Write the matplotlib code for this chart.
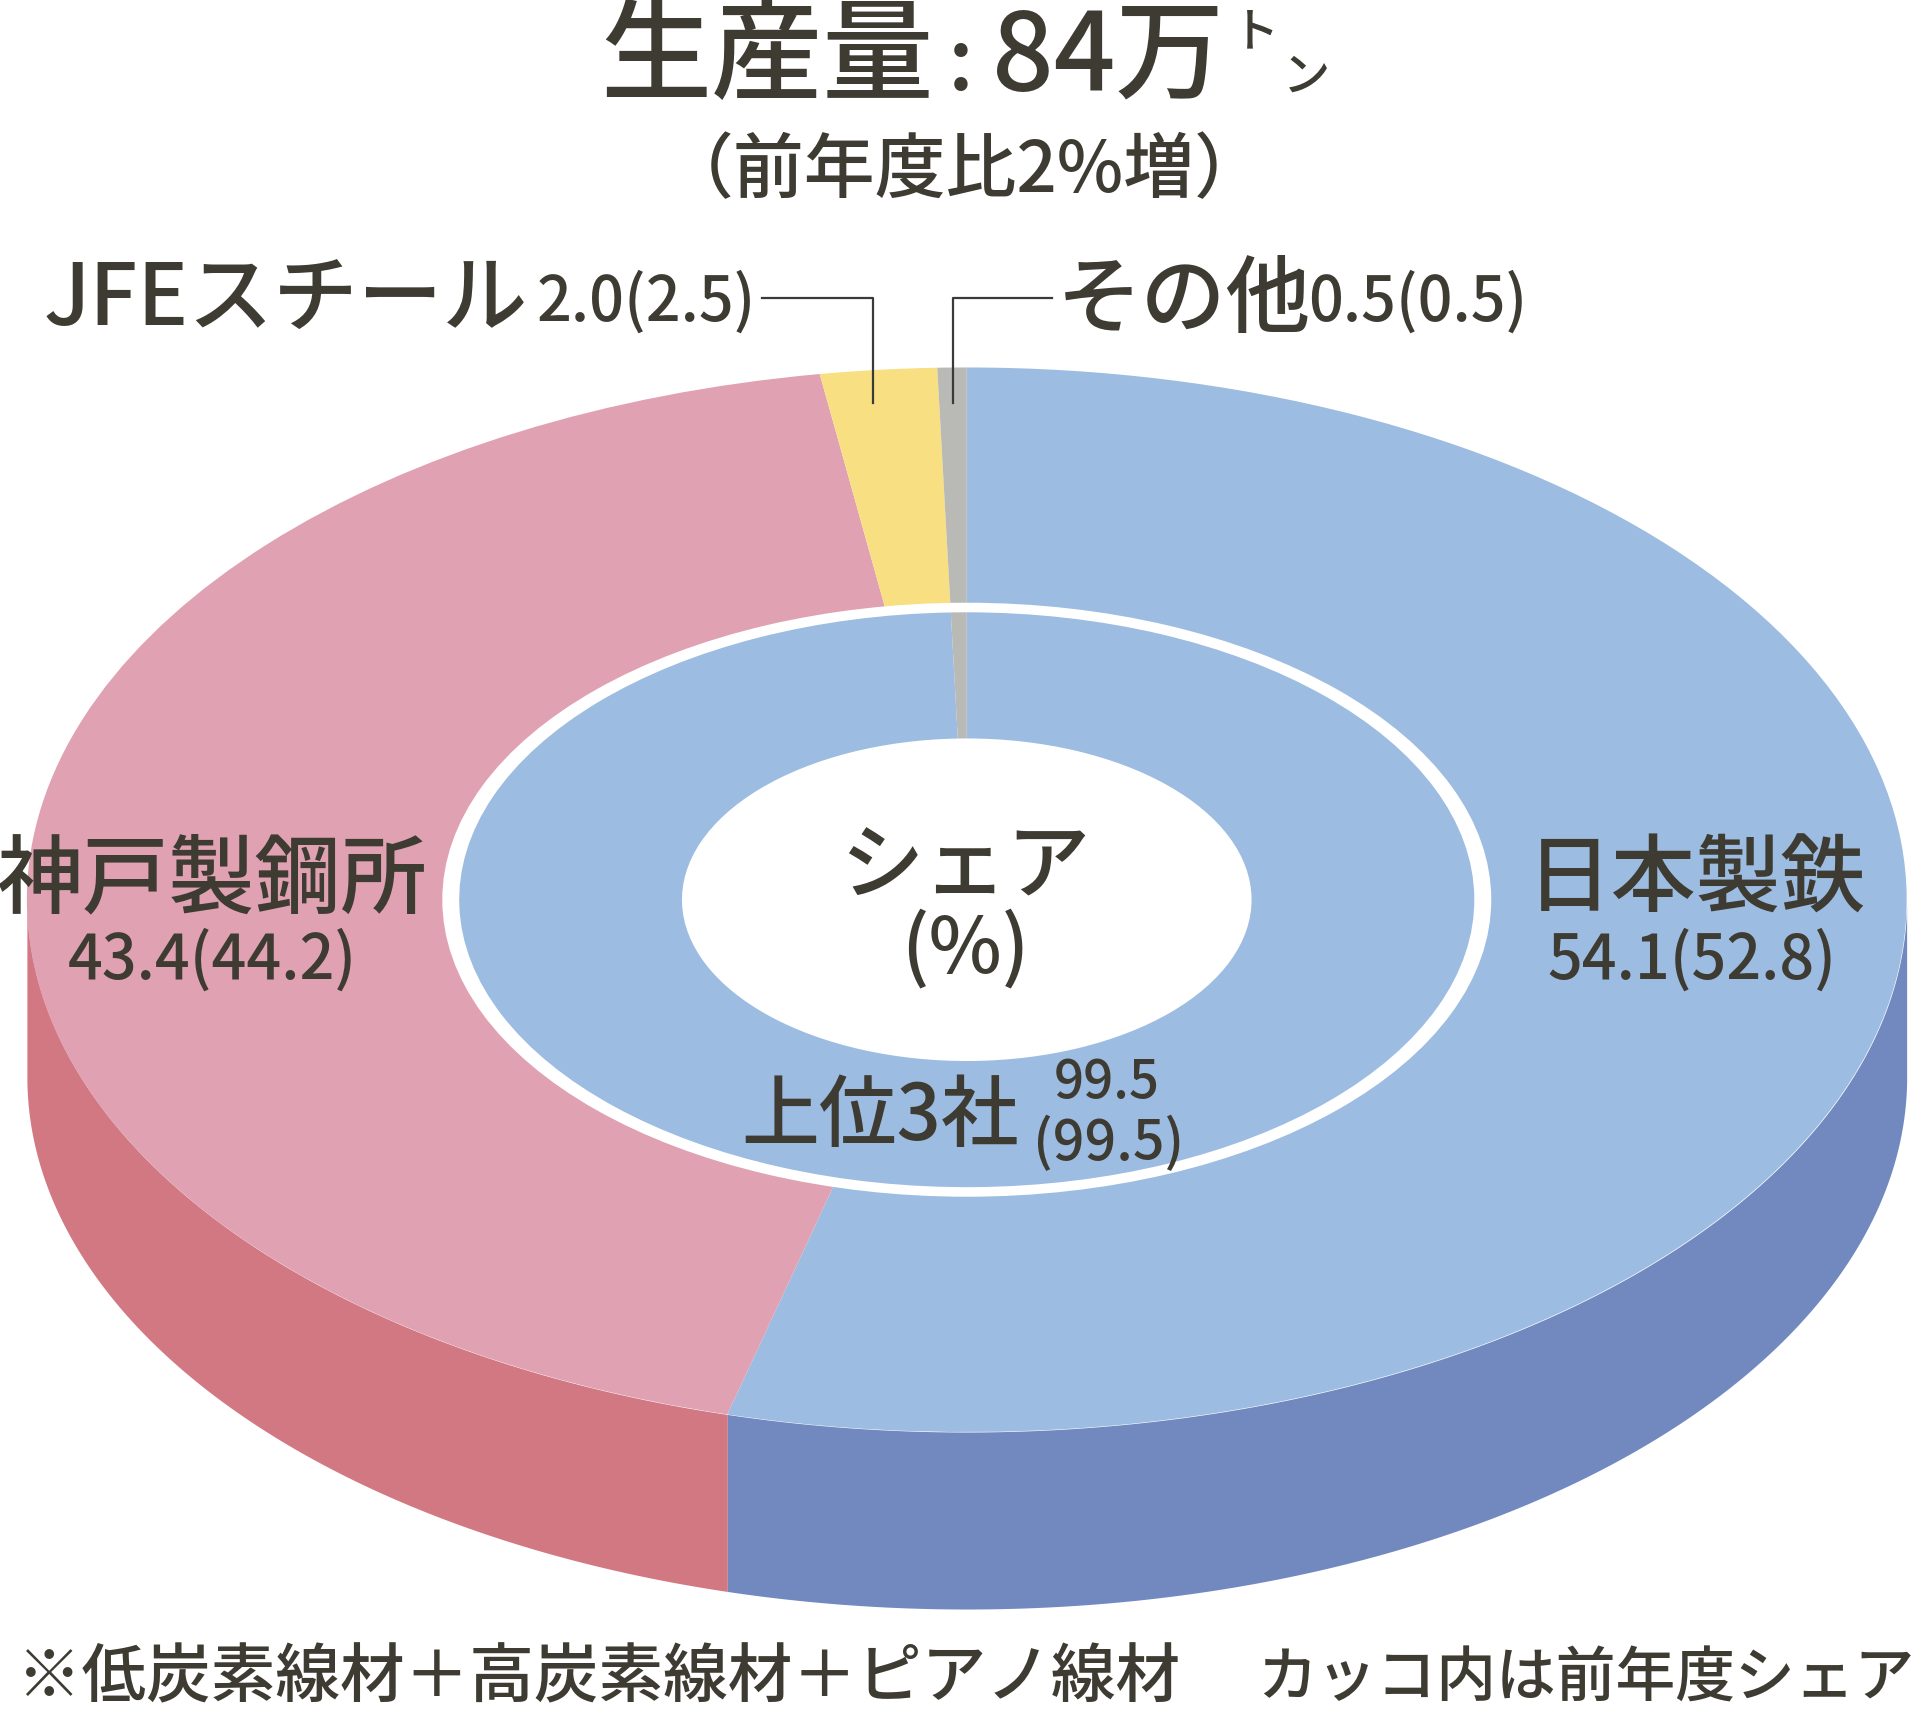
import numpy as np
import matplotlib
matplotlib.use('Agg')
import matplotlib.pyplot as plt

plt.rcParams['font.family'] = ['Noto Sans CJK JP', 'DejaVu Sans']

# shares, clockwise from 12 o'clock
outer_names = ['日本製鉄', '神戸製鋼所', 'JFEスチール', 'その他']
outer_vals = [54.1, 43.4, 2.0, 0.5]
outer_cols = ['#9dbce2', '#e0a1b2', '#f8e082', '#b9b9b5']
side_cols = ['#7289c0', '#d27882', '#f8e082', '#b9b9b5']
inner_vals = [99.5, 0.5]
inner_cols = ['#9dbce2', '#b9b9b5']

W, H = 1568, 1404   # coordinates
cx, cy = 792, 737
rx, ry = 770, 436
depth = 145 / ry
txt = '#3d3b32'

fig = plt.figure(figsize=(19.14, 17.14), dpi=100)
ax = fig.add_axes([0, 0, 1, 1])

ax.pie(outer_vals, colors=outer_cols, startangle=90, counterclock=False, radius=1.0,
       wedgeprops=dict(width=1 - 0.555, linewidth=0))
ax.pie([1], colors=['white'], radius=0.558)
ax.pie(inner_vals, colors=inner_cols, startangle=90, counterclock=False, radius=0.54,
       wedgeprops=dict(width=0.54 - 0.303, linewidth=0))
ax.set_aspect('auto')
ax.set_xlim(-cx / rx, (W - cx) / rx)
ax.set_ylim((cy - H) / ry, cy / ry)
ax.axis('off')

# side wall of the disc
edges = np.cumsum([0] + outer_vals) / 100 * 2 * np.pi
for i in range(len(outer_vals)):
    t = np.linspace(edges[i], edges[i + 1], 300)
    x = np.sin(t)
    y = np.cos(t)
    keep = y <= 0.0
    if keep.sum() < 2:
        continue
    ax.fill_between(x[keep], y[keep], y[keep] - depth, color=side_cols[i], linewidth=0, zorder=0.5)


def label(px, py, s, size, ha='center', **kw):
    ax.text((px - cx) / rx, (cy - py) / ry, s, fontsize=size, ha=ha, va='center', color=txt,
            weight='medium', **kw)


def leader(pxs, pys):
    ax.plot((np.array(pxs) - cx) / rx, (cy - np.array(pys)) / ry, color='#3a3a3a', lw=1.6, zorder=5)


label(628, 48, '生産量', 80)
label(787, 53, ':', 62)
label(908, 48, '84万', 78)
label(1029, 27, 'ト', 34)
label(1070, 63, 'ン', 34)
label(790, 141, '（前年度比2%増）', 51)

label(36, 247, 'JFEスチール', 61, ha='left')
label(440, 248, '2.0(2.5)', 44, ha='left')
label(866, 247, 'その他', 61, ha='left')
label(1072, 248, '0.5(0.5)', 44, ha='left')
leader([624, 715, 715], [244, 244, 330])
leader([862, 781, 781], [244, 244, 330])

label(174, 722, '神戸製鋼所', 62)
label(174, 787, '43.4(44.2)', 44)
label(1390, 722, '日本製鉄', 61)
label(1386, 787, '54.1(52.8)', 44)

label(791, 712, 'シェア', 60)
label(791, 778, '(%)', 56)

label(721, 915, '上位3社', 56)
label(907, 887, '99.5', 38)
label(908, 937, '(99.5)', 40)

label(14, 1375, '※低炭素線材＋高炭素線材＋ピアノ線材', 46.5, ha='left')
label(1030, 1375, 'カッコ内は前年度シェア', 43, ha='left')

fig.savefig('out.png', dpi=100)
